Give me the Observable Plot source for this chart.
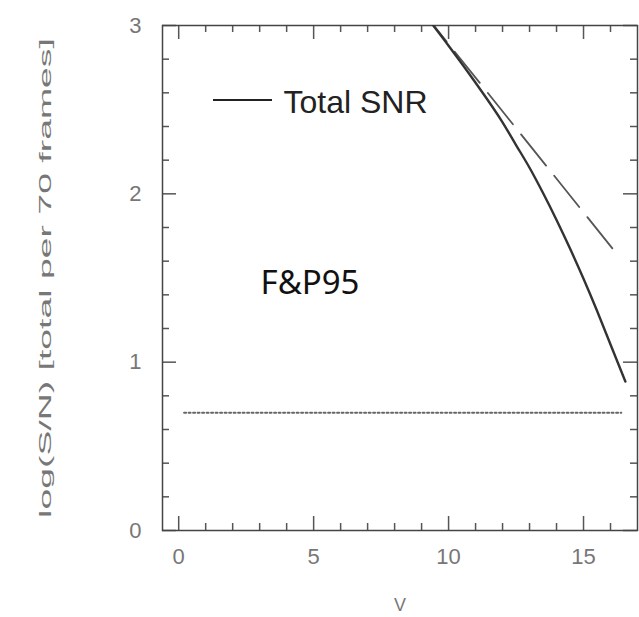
<!DOCTYPE html>
<html><head><meta charset="utf-8">
<script src="https://cdn.jsdelivr.net/npm/d3@7"></script>
<script src="https://cdn.jsdelivr.net/npm/@observablehq/plot@0.6"></script>
<style>body{margin:0;background:#fff} #chart svg{display:block}</style>
</head><body><div id="chart"></div>
<script>
// ---- data ----
const totalV      = [9.0, 10, 11, 12, 12.5, 13, 13.5, 14, 14.5, 15, 15.5, 16, 16.55];
const totalLogSNR = [3.09, 2.88, 2.66, 2.425, 2.29, 2.155, 2.005, 1.845, 1.675, 1.495, 1.305, 1.105, 0.885];
const photonV      = [9.0, 16.1];
const photonLogSNR = [3.09, 1.67];
const thresholdV      = [0.2, 16.4];
const thresholdLogSNR = [0.7, 0.7];
const xMajorTicks = [0, 5, 10, 15];
const xMinorTicks = [1, 2, 3, 4, 6, 7, 8, 9, 11, 12, 13, 14, 16];
const yMajorTicks = [0, 1, 2, 3];
const yMinorTicks = [0.2, 0.4, 0.6, 0.8, 1.2, 1.4, 1.6, 1.8, 2.2, 2.4, 2.6, 2.8];
const legendLabel = "Total SNR";
const annotation = "F&P95";
const xLabel = "V";
const yLabel = "log(S/N) [total per 70 frames]";

const total = totalV.map((v, i) => ({V: v, s: totalLogSNR[i]}));
const photon = photonV.map((v, i) => ({V: v, s: photonLogSNR[i]}));
const threshold = thresholdV.map((v, i) => ({V: v, s: thresholdLogSNR[i]}));

const W = 639, H = 617, mL = 162, mR = 2, mT = 25, mB = 87;
const fw = W - mL - mR, fh = H - mT - mB;
const majorLen = 14, minorLen = 7;
const tickColor = "#555";

const legendSwatch = (index, scales, values, dims) => {
  const l = d3.create("svg:line")
    .attr("x1", mL + 51).attr("x2", mL + 110)
    .attr("y1", mT + 75).attr("y2", mT + 75)
    .attr("stroke", "#222").attr("stroke-width", 2);
  return l.node();
};

const chart = Plot.plot({
  width: W, height: H,
  marginLeft: mL, marginRight: mR, marginTop: mT, marginBottom: mB,
  style: {fontFamily: "Liberation Sans, Arial, sans-serif", background: "#fff"},
  x: {domain: [-0.6, 17]},
  y: {domain: [0, 3]},
  marks: [
    // inward ticks: bottom / top
    Plot.ruleX(xMajorTicks, {x: d => d, insetTop: fh - majorLen, stroke: tickColor, strokeWidth: 1.5}),
    Plot.ruleX(xMinorTicks, {x: d => d, insetTop: fh - minorLen, stroke: tickColor, strokeWidth: 1.5}),
    Plot.ruleX(xMajorTicks, {x: d => d, insetBottom: fh - majorLen, stroke: tickColor, strokeWidth: 1.5}),
    Plot.ruleX(xMinorTicks, {x: d => d, insetBottom: fh - minorLen, stroke: tickColor, strokeWidth: 1.5}),
    // inward ticks: left / right
    Plot.ruleY(yMajorTicks, {y: d => d, insetRight: fw - majorLen, stroke: tickColor, strokeWidth: 1.5}),
    Plot.ruleY(yMinorTicks, {y: d => d, insetRight: fw - minorLen, stroke: tickColor, strokeWidth: 1.5}),
    Plot.ruleY(yMajorTicks, {y: d => d, insetLeft: fw - majorLen, stroke: tickColor, strokeWidth: 1.5}),
    Plot.ruleY(yMinorTicks, {y: d => d, insetLeft: fw - minorLen, stroke: tickColor, strokeWidth: 1.5}),
    Plot.frame({stroke: "#444", strokeWidth: 1.5}),
    Plot.axisX({ticks: xMajorTicks, tickFormat: "d", tickSize: 0, tickPadding: 18, fontSize: 22, fill: "#777", label: null}),
    Plot.axisY({ticks: yMajorTicks, tickFormat: "d", tickSize: 0, tickPadding: 21, fontSize: 22, fill: "#777", label: null}),
    // curves
    Plot.line(threshold, {x: "V", y: "s", stroke: "#666", strokeWidth: 2, strokeDasharray: "2,2.5"}),
    Plot.line(photon, {x: "V", y: "s", stroke: "#555", strokeWidth: 1.8, strokeDasharray: "40,13", clip: true}),
    Plot.line(total, {x: "V", y: "s", stroke: "#333", strokeWidth: 2.4, curve: "monotone-x", clip: true}),
    // texts
    legendSwatch,
    Plot.text([legendLabel], {frameAnchor: "top-left", dx: 121, dy: 77, textAnchor: "start", lineAnchor: "middle", fontSize: 32, fill: "#222"}),
    Plot.text([annotation], {frameAnchor: "top-left", dx: 98, dy: 258, textAnchor: "start", lineAnchor: "middle", fontSize: 33, fill: "#111", fontFamily: "Noto Sans"}),
    Plot.text([xLabel], {frameAnchor: "bottom", dy: 75, lineAnchor: "middle", fontSize: 18, fill: "#777"}),
    Plot.text([yLabel], {frameAnchor: "left", dx: -117, rotate: -90, textAnchor: "middle", lineAnchor: "middle", fontSize: 17, fill: "#777"})
  ]
});
document.getElementById("chart").appendChild(chart);

// stretch the rotated y label along its length, as in the reference
d3.select(chart).selectAll("text").each(function() {
  if (this.textContent === yLabel) {
    const len = this.getComputedTextLength();
    const t = this.getAttribute("transform") || "";
    this.setAttribute("transform", t + ` scale(${480 / len},1)`);
  }
});
</script>
</body></html>
